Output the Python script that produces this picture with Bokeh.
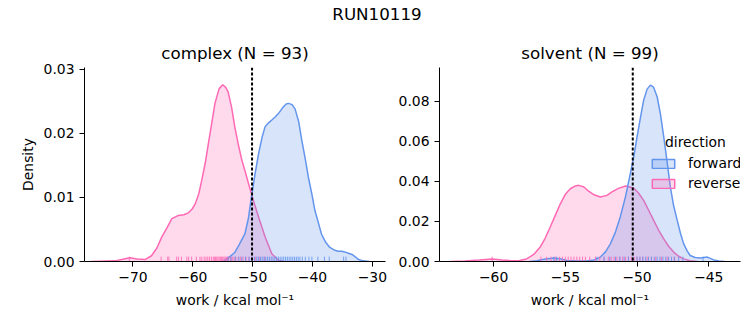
from bokeh.plotting import figure
from bokeh.layouts import column, row
from bokeh.models import Range1d, FixedTicker, Span, Legend, LegendItem, NumeralTickFormatter, Label
from bokeh.core.properties import value
from bokeh.embed import file_html
from bokeh.resources import INLINE

FONT = "DejaVu Sans"
BLUE = "#6495ED"
PINK = "#FF69B4"
NAN = float("nan")

# ---------------- data ----------------
suptitle = "RUN10119"
complex_title = "complex (N = 93)"
solvent_title = "solvent (N = 99)"
xlabel = "work / kcal mol\u207b\u00b9"

# complex panel KDE curves
cx_rev = [-77, -73, -71.5, -70.5, -69.3, -68.0, -66.9, -66.0, -65.2, -64.3, -63.5, -62.4, -61.5,
          -60.75, -60.1, -59.6, -59.0, -58.5, -57.9, -57.4, -56.8, -56.3, -55.6, -55.0, -54.5,
          -54.1, -53.5, -53.0, -52.4, -51.8, -51.2, -50.7, -49.9, -49.0, -47.9, -46.8, -45.7, -44.8]
cy_rev = [0, 0.0001, 0.0004, 0.00058, 0.0004, 0.0003, 0.0009, 0.0021, 0.0038, 0.0053, 0.0067, 0.0072,
          0.0073, 0.0076, 0.0082, 0.0090, 0.0106, 0.0127, 0.0155, 0.0184, 0.0218, 0.0247, 0.0270,
          0.0276, 0.0272, 0.0265, 0.0240, 0.0211, 0.0183, 0.0158, 0.0139, 0.0122, 0.0096, 0.0069,
          0.0038, 0.0012, 0.0002, 0]
cx_fwd = [-55.0, -54.0, -53.0, -52.2, -51.3, -50.7, -50.2, -49.6, -49.0, -48.4, -47.9, -47.3, -46.8,
          -46.2, -45.7, -45.0, -44.4, -44.0, -43.4, -42.9, -42.3, -41.8, -41.2, -40.7, -40.1, -39.6,
          -39.0, -38.5, -37.8, -37.1, -36.4, -35.7, -35.1, -34.6, -34.0, -33.4, -32.8, -32.3, -31.5, -30.5]
cy_fwd = [0, 0.0006, 0.0014, 0.0027, 0.0043, 0.0068, 0.0101, 0.0137, 0.0169, 0.0195, 0.0211, 0.0217,
          0.0221, 0.0226, 0.0231, 0.0240, 0.0246, 0.0247, 0.0245, 0.0238, 0.0218, 0.0190, 0.0160,
          0.0132, 0.0105, 0.0080, 0.0060, 0.0043, 0.0030, 0.0022, 0.0018, 0.0016, 0.0016, 0.0015,
          0.0013, 0.0011, 0.0007, 0.0003, 0.0001, 0]

# solvent panel KDE curves
sx_rev = [-63.0, -62.0, -61.0, -60.1, -59.4, -58.8, -58.2, -57.7, -57.2, -56.75, -56.4, -56.05, -55.7,
          -55.35, -55.0, -54.65, -54.3, -54.07, -53.7, -53.4, -53.0, -52.56, -52.1, -51.75, -51.3,
          -50.8, -50.24, -49.9, -49.54, -49.2, -48.84, -48.5, -48.14, -47.8, -47.45, -47.1, -46.75,
          -46.3, -45.8]
sy_rev = [0, 0.0003, 0.0008, 0.0013, 0.0008, 0.0004, 0.0005, 0.0013, 0.0035, 0.0072, 0.0117, 0.0172,
          0.0230, 0.0288, 0.0335, 0.0363, 0.0377, 0.0380, 0.0372, 0.0352, 0.0333, 0.0322, 0.0330,
          0.0347, 0.0365, 0.0377, 0.0367, 0.0342, 0.0305, 0.0257, 0.0205, 0.0157, 0.0113, 0.0076,
          0.0047, 0.0026, 0.0013, 0.0004, 0]
sx_fwd = [-57.5, -57.0, -56.4, -55.8, -55.3, -54.9, -54.2, -53.5, -53.0, -52.56, -52.2, -51.86, -51.5,
          -51.17, -50.8, -50.47, -50.2, -50.0, -49.77, -49.54, -49.3, -49.07, -48.85, -48.6, -48.37,
          -48.14, -47.9, -47.68, -47.45, -47.2, -46.97, -46.75, -46.5, -46.3, -45.95, -45.6, -45.1,
          -44.65, -44.3, -43.9]
sy_fwd = [0, 0.0004, 0.0012, 0.0018, 0.0012, 0.0005, 0.0002, 0.0002, 0.0008, 0.0022, 0.0048, 0.0088,
          0.0148, 0.0222, 0.0325, 0.0438, 0.0535, 0.0622, 0.0715, 0.0805, 0.0860, 0.0880, 0.0870,
          0.0822, 0.0735, 0.0622, 0.0495, 0.0372, 0.0278, 0.0205, 0.0140, 0.0088, 0.0052, 0.0030,
          0.0020, 0.0018, 0.0022, 0.0008, 0.0002, 0]

# rug samples (work values)
c_rug_fwd = [-54.1, -53.6, -52.9, -52.3, -51.8, -51.2, -50.6, -50.1, -49.7, -49.3, -49.0, -48.7, -48.4,
             -48.1, -47.8, -47.5, -47.2, -46.9, -46.6, -46.3, -46.0, -45.7, -45.4, -45.1, -44.8, -44.5,
             -44.2, -43.9, -43.6, -43.3, -43.0, -42.7, -42.4, -42.1, -41.7, -41.2, -40.6, -40.1, -39.1,
             -38.0, -37.2, -34.8, -34.4]
c_rug_rev = [-70.6, -65.3, -64.2, -64.0, -62.7, -62.4, -61.9, -61.0, -60.7, -60.2, -59.4, -58.8, -58.5,
             -58.1, -57.8, -57.5, -57.2, -56.9, -56.6, -56.4, -56.2, -56.0, -55.8, -55.6, -55.4, -55.2,
             -55.0, -54.8, -54.6, -54.4, -54.2, -54.0, -53.7, -53.4, -53.1, -52.8, -52.4, -52.0, -51.6,
             -51.1, -50.6, -50.1, -49.5, -48.8, -48.0]
s_rug_fwd = [-55.8, -55.6, -52.8, -52.3, -51.9, -51.5, -51.2, -50.9, -50.6, -50.3, -50.0, -49.8, -49.6,
             -49.4, -49.2, -49.0, -48.8, -48.6, -48.4, -48.2, -48.0, -47.8, -47.6, -47.4, -47.1, -46.8,
             -45.4]
s_rug_rev = [-60.1, -56.7, -56.3, -56.0, -55.7, -55.4, -55.2, -55.0, -54.8, -54.6, -54.4, -54.2, -54.0,
             -53.8, -53.6, -53.3, -52.9, -52.6, -52.3, -52.0, -51.8, -51.6, -51.4, -51.2, -51.0, -50.8,
             -50.6, -50.4, -50.2, -50.0, -49.8, -49.6, -49.3, -49.0, -48.7, -48.3, -47.9, -47.4]

# dotted reference (free energy estimate)
c_dg = -50.1
s_dg = -50.3

c_xticks = [-70, -60, -50, -40, -30]
c_yticks = [0.0, 0.01, 0.02, 0.03]
s_xticks = [-60, -55, -50, -45]
s_yticks = [0.0, 0.02, 0.04, 0.06, 0.08]

# ---------------- layout ----------------
HEADER_H = 28
PANEL_H = 325 - HEADER_H

header = figure(width=753, height=HEADER_H, x_range=Range1d(0, 1), y_range=Range1d(0, 1),
                output_backend="svg", toolbar_location=None, x_axis_location=None,
                y_axis_location=None, min_border=0)
header.grid.visible = False
header.outline_line_color = None
header.text(x=[0.5], y=[0.53], text=[suptitle], text_align="center", text_baseline="middle",
            text_font=value(FONT), text_font_size="16.7px", text_color="black")


def panel(title, xr, ymax, xticks, yticks, rev, fwd, rug_rev, rug_fwd, dg, width, bl, br, ylabel):
    p = figure(width=width, height=PANEL_H, x_range=Range1d(*xr), y_range=Range1d(0, ymax),
               output_backend="svg", toolbar_location=None,
               min_border_left=bl, min_border_right=br, min_border_top=39, min_border_bottom=64)
    p.title.text = title
    p.title.align = "center"
    p.title.text_font = FONT
    p.title.text_font_size = "16.7px"
    p.title.text_font_style = "normal"
    p.title.text_color = "black"
    p.grid.visible = False
    p.outline_line_color = None
    p.background_fill_color = "white"

    # reverse first, forward on top
    for (xs, ys), col in ((rev, PINK), (fwd, BLUE)):
        p.varea(x=xs, y1=[0] * len(xs), y2=ys, fill_color=col, fill_alpha=0.25)
        p.line(x=xs, y=ys, line_color=col, line_width=1.5)

    rh = ymax * 0.025
    for vals, col in ((rug_rev, PINK), (rug_fwd, BLUE)):
        p.segment(x0=vals, y0=[0] * len(vals), x1=vals, y1=[rh] * len(vals),
                  line_color=col, line_alpha=0.85, line_width=1)

    p.add_layout(Span(location=dg, dimension="height", line_color="black", line_width=2,
                      line_dash="3 2"))

    for ax in (p.xaxis[0], p.yaxis[0]):
        ax.axis_line_color = "black"
        ax.axis_line_width = 1
        ax.major_tick_line_color = "black"
        ax.major_tick_out = 5
        ax.major_tick_in = 0
        ax.minor_tick_line_color = None
        ax.major_label_text_font = FONT
        ax.major_label_text_font_size = "13.9px"
        ax.major_label_text_color = "black"
        ax.major_label_standoff = 5
        ax.axis_label_text_font = FONT
        ax.axis_label_text_font_size = "13.9px"
        ax.axis_label_text_font_style = "normal"
        ax.axis_label_text_color = "black"
    p.xaxis.ticker = FixedTicker(ticks=xticks)
    p.xaxis.major_label_overrides = {t: ("\u2212%d" % -t if t < 0 else "%d" % t) for t in xticks}
    p.yaxis.ticker = FixedTicker(ticks=yticks)
    p.yaxis.formatter = NumeralTickFormatter(format="0.00")
    p.xaxis.axis_label = xlabel
    p.xaxis.axis_label_standoff = 7
    if ylabel:
        p.yaxis.axis_label = ylabel
        p.yaxis.axis_label_standoff = 5
    return p


p1 = panel(complex_title, (-78.1, -27.8), 0.0303, c_xticks, c_yticks, (cx_rev, cy_rev),
           (cx_fwd, cy_fwd), c_rug_rev, c_rug_fwd, c_dg, 395, 84, 10, "Density")
p2 = panel(solvent_title, (-63.77, -42.79), 0.0968, s_xticks, s_yticks, (sx_rev, sy_rev),
           (sx_fwd, sy_fwd), s_rug_rev, s_rug_fwd, s_dg, 358, 44, 13, None)

# legend (proxy patches with no visible data)
hue_order = ["forward", "reverse"]
leg_fwd = p2.quad(left=[NAN], right=[NAN], top=[NAN], bottom=[NAN], fill_color=BLUE,
                  fill_alpha=0.25, line_color=BLUE, line_width=1.5)
leg_rev = p2.quad(left=[NAN], right=[NAN], top=[NAN], bottom=[NAN], fill_color=PINK,
                  fill_alpha=0.25, line_color=PINK, line_width=1.5)
legend = Legend(items=[LegendItem(label=hue_order[0], renderers=[leg_fwd], index=0),
                       LegendItem(label=hue_order[1], renderers=[leg_rev], index=0)],
                location=(210, 70), padding=0, spacing=4, glyph_width=28, glyph_height=11,
                label_height=11, label_standoff=11, border_line_color=None,
                background_fill_alpha=0, label_text_font=FONT, label_text_font_size="13.9px",
                label_text_color="black")
p2.add_layout(legend)
p2.add_layout(Label(x=-45.93, y=0.0595, text="direction", text_align="center",
                    text_baseline="middle", text_font=FONT, text_font_size="13.9px",
                    text_color="black"))

layout = column(header, row(p1, p2, spacing=0), spacing=0)
open("out.html", "w").write(file_html(layout, INLINE))
